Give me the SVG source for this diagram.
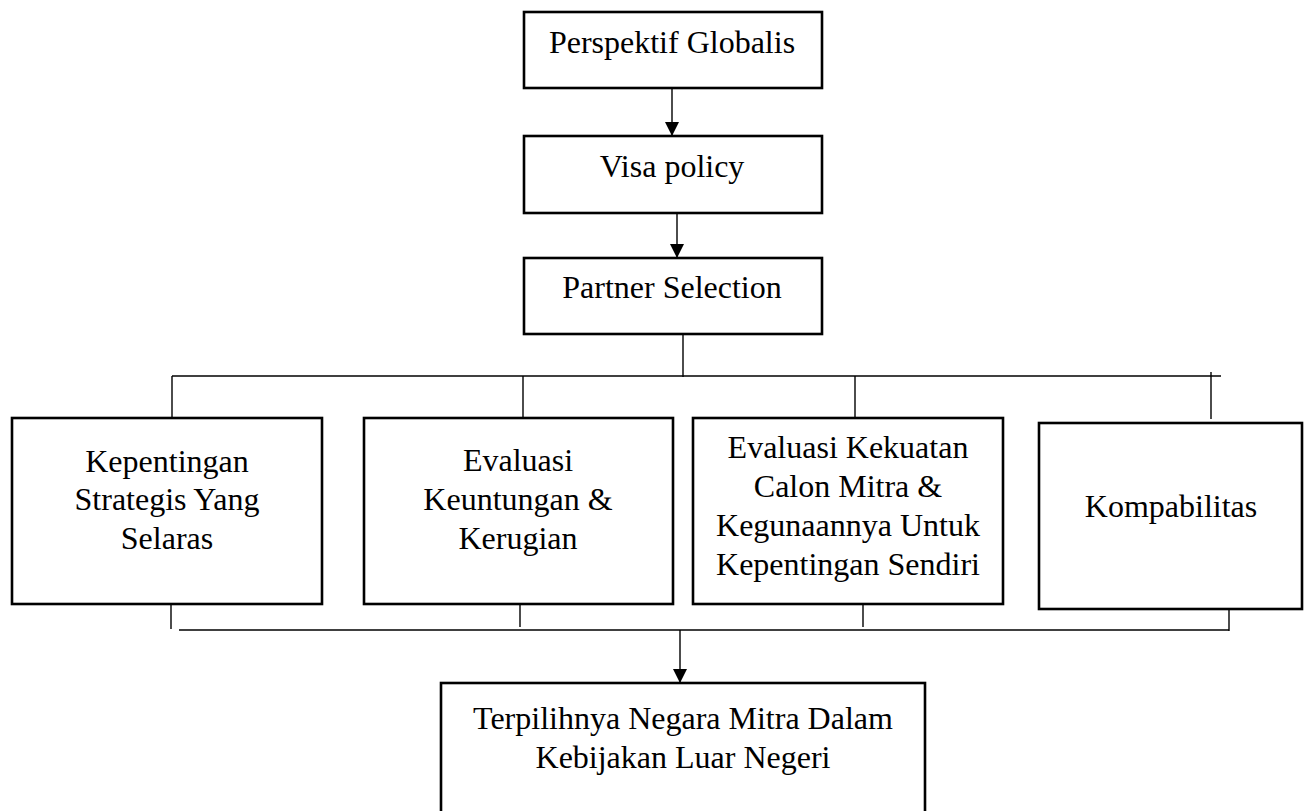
<svg xmlns="http://www.w3.org/2000/svg" width="1312" height="811" viewBox="0 0 1312 811">
<style>
.box{fill:#fff;stroke:#000;stroke-width:2.6}
.t{font-family:"Liberation Serif","Times New Roman",serif;font-size:32px;fill:#000;text-anchor:middle}
.c{stroke:#000;stroke-width:1.4;fill:none}
</style>
<defs>
<marker id="ah" markerUnits="userSpaceOnUse" markerWidth="14" markerHeight="14" refX="14" refY="7" orient="auto">
<path d="M0,0 L14,7 L0,14 Z" fill="#000"/>
</marker>
</defs>
<g id="connectors">
<line class="c" x1="672" y1="88" x2="672" y2="136" marker-end="url(#ah)"/>
<line class="c" x1="677" y1="213" x2="677" y2="258" marker-end="url(#ah)"/>
<line class="c" x1="683" y1="334" x2="683" y2="377"/>
<line class="c" x1="172" y1="376" x2="1221" y2="376"/>
<line class="c" x1="172" y1="376" x2="172" y2="421"/>
<line class="c" x1="523" y1="376" x2="523" y2="423"/>
<line class="c" x1="855" y1="376" x2="855" y2="421"/>
<line class="c" x1="1211" y1="372" x2="1211" y2="419"/>
<line class="c" x1="171" y1="604" x2="171" y2="629"/>
<line class="c" x1="520" y1="604" x2="520" y2="627"/>
<line class="c" x1="863" y1="604" x2="863" y2="627"/>
<line class="c" x1="1229" y1="608" x2="1229" y2="631"/>
<line class="c" x1="179" y1="630" x2="1229" y2="630"/>
<line class="c" x1="680" y1="630" x2="680" y2="683" marker-end="url(#ah)"/>
</g>
<g id="perspektif">
<rect class="box" x="524" y="12" width="298" height="76"/>
<text class="t" x="672" y="53">Perspektif Globalis</text>
</g>
<g id="visa">
<rect class="box" x="524" y="136" width="298" height="77"/>
<text class="t" x="672" y="177">Visa policy</text>
</g>
<g id="partner">
<rect class="box" x="524" y="258" width="298" height="76"/>
<text class="t" x="672" y="298">Partner Selection</text>
</g>
<g id="kepentingan">
<rect class="box" x="12" y="418" width="310" height="186"/>
<text class="t" x="167" y="472">Kepentingan</text>
<text class="t" x="167" y="510">Strategis Yang</text>
<text class="t" x="167" y="549">Selaras</text>
</g>
<g id="evaluasi">
<rect class="box" x="364" y="418" width="309" height="186"/>
<text class="t" x="518" y="471">Evaluasi</text>
<text class="t" x="518" y="510">Keuntungan &amp;</text>
<text class="t" x="518" y="549">Kerugian</text>
</g>
<g id="kekuatan">
<rect class="box" x="693" y="418" width="310" height="186"/>
<text class="t" x="848" y="458">Evaluasi Kekuatan</text>
<text class="t" x="848" y="497">Calon Mitra &amp;</text>
<text class="t" x="848" y="536">Kegunaannya Untuk</text>
<text class="t" x="848" y="575">Kepentingan Sendiri</text>
</g>
<g id="kompabilitas">
<rect class="box" x="1039" y="423" width="263" height="186"/>
<text class="t" x="1171" y="517">Kompabilitas</text>
</g>
<g id="terpilih">
<rect class="box" x="441" y="683" width="484" height="140"/>
<text class="t" x="683" y="729">Terpilihnya Negara Mitra Dalam</text>
<text class="t" x="683" y="768">Kebijakan Luar Negeri</text>
</g>
</svg>
